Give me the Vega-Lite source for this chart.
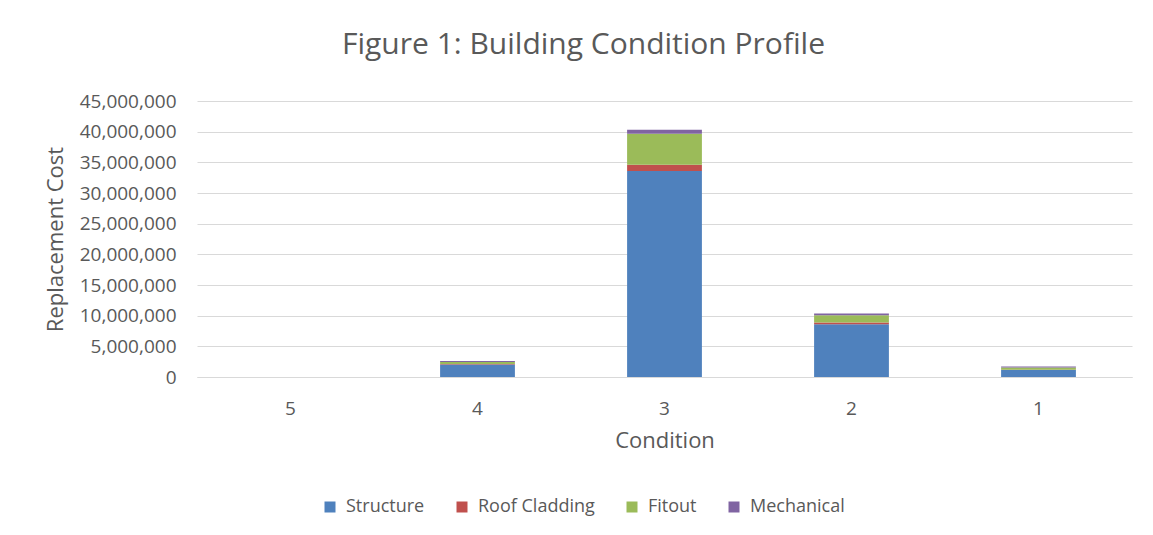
{
  "$schema": "https://vega.github.io/schema/vega-lite/v6.json",
  "autosize": "none",
  "width": 935,
  "height": 276,
  "padding": {"left": 197, "top": 101, "right": 21, "bottom": 158},
  "background": "#ffffff",
  "title": {
    "text": "Figure 1: Building Condition Profile",
    "font": "Open Sans",
    "fontSize": 30,
    "fontWeight": "normal",
    "color": "#595959",
    "anchor": "middle",
    "dx": -81,
    "offset": 32
  },
  "data": {
    "values": [
      {"Condition": "5", "Component": "Structure", "Cost": 0},
      {"Condition": "5", "Component": "Roof Cladding", "Cost": 0},
      {"Condition": "5", "Component": "Fitout", "Cost": 0},
      {"Condition": "5", "Component": "Mechanical", "Cost": 0},
      {"Condition": "4", "Component": "Structure", "Cost": 2050000},
      {"Condition": "4", "Component": "Roof Cladding", "Cost": 60000},
      {"Condition": "4", "Component": "Fitout", "Cost": 330000},
      {"Condition": "4", "Component": "Mechanical", "Cost": 160000},
      {"Condition": "3", "Component": "Structure", "Cost": 33600000},
      {"Condition": "3", "Component": "Roof Cladding", "Cost": 1000000},
      {"Condition": "3", "Component": "Fitout", "Cost": 5050000},
      {"Condition": "3", "Component": "Mechanical", "Cost": 650000},
      {"Condition": "2", "Component": "Structure", "Cost": 8600000},
      {"Condition": "2", "Component": "Roof Cladding", "Cost": 300000},
      {"Condition": "2", "Component": "Fitout", "Cost": 1150000},
      {"Condition": "2", "Component": "Mechanical", "Cost": 300000},
      {"Condition": "1", "Component": "Structure", "Cost": 1150000},
      {"Condition": "1", "Component": "Roof Cladding", "Cost": 50000},
      {"Condition": "1", "Component": "Fitout", "Cost": 350000},
      {"Condition": "1", "Component": "Mechanical", "Cost": 150000}
    ]
  },
  "transform": [
    {"calculate": "indexof(['Structure', 'Roof Cladding', 'Fitout', 'Mechanical'], datum.Component)", "as": "stackOrder"}
  ],
  "mark": {"type": "bar"},
  "encoding": {
    "x": {
      "field": "Condition",
      "type": "nominal",
      "sort": ["5", "4", "3", "2", "1"],
      "scale": {"paddingInner": 0.6, "paddingOuter": 0.3},
      "axis": {
        "title": "Condition",
        "labelAngle": 0,
        "ticks": false,
        "domainColor": "#d9d9d9",
        "labelPadding": 22,
        "titlePadding": 12
      }
    },
    "y": {
      "field": "Cost",
      "type": "quantitative",
      "stack": "zero",
      "scale": {"domain": [0, 45000000], "nice": false},
      "axis": {
        "title": "Replacement Cost",
        "values": [0, 5000000, 10000000, 15000000, 20000000, 25000000, 30000000, 35000000, 40000000, 45000000],
        "format": ",d",
        "ticks": false,
        "domain": false,
        "labelPadding": 21,
        "titlePadding": 12,
        "gridColor": "#d9d9d9"
      }
    },
    "color": {
      "field": "Component",
      "type": "nominal",
      "sort": ["Structure", "Roof Cladding", "Fitout", "Mechanical"],
      "scale": {
        "domain": ["Structure", "Roof Cladding", "Fitout", "Mechanical"],
        "range": ["#4F81BD", "#C0504D", "#9BBB59", "#8064A2"]
      },
      "legend": {
        "title": null,
        "orient": "none",
        "legendX": 124,
        "legendY": 397,
        "direction": "horizontal",
        "symbolType": "square",
        "symbolSize": 121,
        "symbolStrokeWidth": 0,
        "labelOffset": 7,
        "columnPadding": 28,
        "labelFont": "Open Sans",
        "labelFontSize": 18,
        "labelColor": "#595959"
      }
    },
    "order": {"field": "stackOrder", "type": "quantitative", "sort": "ascending"}
  },
  "config": {
    "view": {"stroke": null},
    "axis": {
      "labelFont": "Open Sans",
      "labelFontSize": 19,
      "labelColor": "#595959",
      "titleFont": "Open Sans",
      "titleFontSize": 22,
      "titleFontWeight": "normal",
      "titleColor": "#595959",
      "gridColor": "#d9d9d9"
    },
    "axisX": {"grid": false}
  }
}
